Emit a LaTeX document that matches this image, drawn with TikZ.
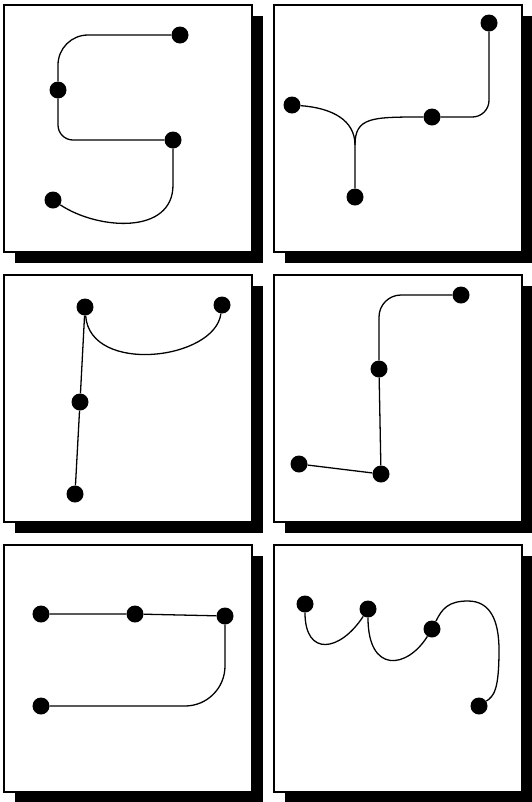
\documentclass[tikz,border=0pt]{standalone}
\usepackage{tikz}

\begin{document}
\begin{tikzpicture}[
  x=0.03cm, y=-0.03cm,
  panel/.style={draw, line width=1.3pt, fill=white},
  shade/.style={fill=black},
  dot/.style={circle, fill=black, inner sep=0pt, minimum size=0.51cm},
  link/.style={line width=1.1pt}
]
  \useasboundingbox[fill=white] (0,0) rectangle (532,802);
  \foreach \px/\py in {4/5, 274/5, 4/275, 274/275, 4/545, 274/545} {
    \fill[shade] (\px+11,\py+11) rectangle ++(248,247);
    \draw[panel] (\px,\py) rectangle ++(248,247);
  }

  \node[dot] (p1a) at (180,35) {};
  \node[dot] (p1b) at (58,90) {};
  \node[dot] (p1c) at (173,140) {};
  \node[dot] (p1d) at (53,200) {};
  \draw[link, rounded corners=0.9cm] (p1a) -| (p1b);
  \draw[link, rounded corners=0.45cm] (p1b) |- (p1c);
  \draw[link] (p1c) -- ++(0,45) .. controls +(0,50) and +(45,30) .. (p1d);

  \node[dot] (p2a) at (489,23) {};
  \node[dot] (p2b) at (292,105) {};
  \node[dot] (p2c) at (432,117) {};
  \node[dot] (p2d) at (355,197) {};
  \coordinate (p2j) at (355,145);
  \draw[link] (p2b) .. controls +(40,3) and +(0,-25) .. (p2j) -- (p2d);
  \draw[link] (p2j) .. controls +(0,-28) and +(-60,0) .. (p2c);
  \draw[link, rounded corners=0.5cm] (p2c) -| (p2a);

  \node[dot] (p3a) at (85,307) {};
  \node[dot] (p3b) at (222,305) {};
  \node[dot] (p3c) at (80,402) {};
  \node[dot] (p3d) at (75,494) {};
  \draw[link] (p3a) -- (p3c) -- (p3d);
  \draw[link] (p3a) .. controls +(5,68) and +(-7,55) .. (p3b);

  \node[dot] (p4a) at (461,295) {};
  \node[dot] (p4b) at (379,369) {};
  \node[dot] (p4c) at (299,464) {};
  \node[dot] (p4d) at (381,474) {};
  \draw[link, rounded corners=0.66cm] (p4a) -| (p4b);
  \draw[link] (p4b) -- (p4d) -- (p4c);

  \node[dot] (p5a) at (41,614) {};
  \node[dot] (p5b) at (135,614) {};
  \node[dot] (p5c) at (225,616) {};
  \node[dot] (p5d) at (41,706) {};
  \draw[link] (p5a) -- (p5b) -- (p5c);
  \draw[link, rounded corners=1.2cm] (p5c) |- (p5d);

  \node[dot] (p6a) at (305,604) {};
  \node[dot] (p6b) at (368,609) {};
  \node[dot] (p6c) at (432,629) {};
  \node[dot] (p6d) at (479,706) {};
  \draw[link] (p6a) .. controls +(0,53) and +(-28,43) .. (p6b);
  \draw[link] (p6b) .. controls +(0,65) and +(-25,40) .. (p6c);
  \draw[link] (p6c) .. controls +(10,-20) and +(-20,0) .. (468,601)
    .. controls +(22,0) and +(0,-30) .. (499,650)
    .. controls +(0,40) and +(15,-10) .. (p6d);
\end{tikzpicture}
\end{document}
